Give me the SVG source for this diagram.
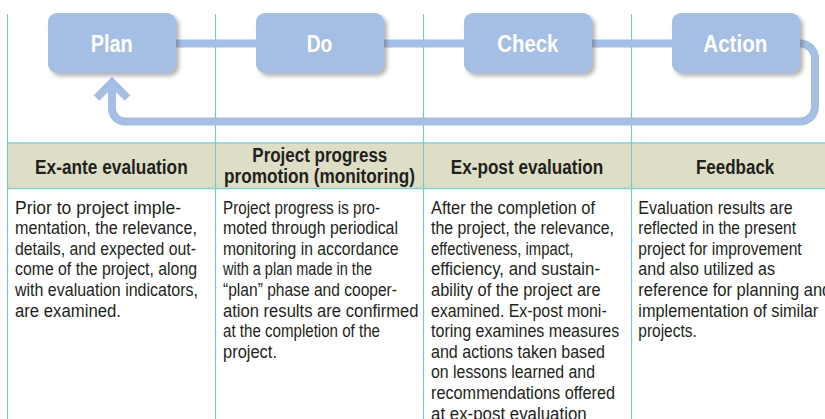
<svg xmlns="http://www.w3.org/2000/svg" width="825" height="419" viewBox="0 0 825 419">
<defs>
<filter id="sh" x="-10%" y="-10%" width="130%" height="140%">
<feDropShadow dx="3" dy="3" stdDeviation="2" flood-color="#555" flood-opacity="0.45"/>
</filter>
<style>
.box{fill:#a4bee4;filter:url(#sh)}
.lbl{font-family:"Liberation Sans",Arial,sans-serif;font-weight:bold;font-size:24px;fill:#fff}
.grid{stroke:#7cc7c6;stroke-width:1.2;fill:none}
.band{fill:#dedec6}
.bandline{stroke:#86cfca;stroke-width:1.6;fill:none}
.hd{font-family:"Liberation Sans",Arial,sans-serif;font-weight:bold;font-size:19.5px;fill:#231f20}
.bd{font-family:"Liberation Sans",Arial,sans-serif;font-size:17.5px;fill:#231f20}
.conn{fill:none;stroke:#a4bee4;stroke-width:8}
</style>
</defs>
<rect width="825" height="419" fill="#fff"/>

<g id="table-grid">
<rect class="band" x="7.5" y="143" width="817.5" height="45.5"/>
<path class="bandline" d="M7.5 143H825M7.5 188.5H825"/>
<path class="grid" d="M7.5 14V419M215.5 14V419M423.5 14V419M631.5 14V419"/>
</g>

<g id="connectors">
<path class="conn" d="M170 43.5H262"/>
<path class="conn" d="M378 43.5H470"/>
<path class="conn" d="M586 43.5H678"/>
<path class="conn" d="M794 43.5H800A15 15 0 0 1 815 58.5V106.5A15 15 0 0 1 800 121.5H125A13 13 0 0 1 112 108.5V84"/>
<polyline class="conn" stroke-linejoin="miter" points="96.5,98 112,82.5 127.5,98"/>
</g>

<g id="plan">
<rect class="box" x="48" y="13" width="128" height="60" rx="9"/>
<text class="lbl" x="90.7" y="51.7" textLength="42" lengthAdjust="spacingAndGlyphs">Plan</text>
</g>
<g id="do">
<rect class="box" x="256" y="13" width="128" height="60" rx="9"/>
<text class="lbl" x="306.7" y="51.7" textLength="25.6" lengthAdjust="spacingAndGlyphs">Do</text>
</g>
<g id="check">
<rect class="box" x="464" y="13" width="128" height="60" rx="9"/>
<text class="lbl" x="497.3" y="51.7" textLength="61" lengthAdjust="spacingAndGlyphs">Check</text>
</g>
<g id="action">
<rect class="box" x="672" y="13" width="128" height="60" rx="9"/>
<text class="lbl" x="703.3" y="51.7" textLength="64" lengthAdjust="spacingAndGlyphs">Action</text>
</g>

<g id="headers">
<text class="hd" x="35" y="174" textLength="152.7" lengthAdjust="spacingAndGlyphs">Ex-ante evaluation</text>
<text class="hd" x="252.3" y="161.5" textLength="135" lengthAdjust="spacingAndGlyphs">Project progress</text>
<text class="hd" x="224" y="183" textLength="191" lengthAdjust="spacingAndGlyphs">promotion (monitoring)</text>
<text class="hd" x="450.7" y="174" textLength="152.6" lengthAdjust="spacingAndGlyphs">Ex-post evaluation</text>
<text class="hd" x="696" y="174" textLength="78.3" lengthAdjust="spacingAndGlyphs">Feedback</text>
</g>

<g id="col1-text">
<text class="bd" x="15" y="213.5" textLength="166" lengthAdjust="spacingAndGlyphs">Prior to project imple-</text>
<text class="bd" x="15" y="234.1" textLength="182" lengthAdjust="spacingAndGlyphs">mentation, the relevance,</text>
<text class="bd" x="15" y="254.7" textLength="181" lengthAdjust="spacingAndGlyphs">details, and expected out-</text>
<text class="bd" x="15" y="275.3" textLength="182" lengthAdjust="spacingAndGlyphs">come of the project, along</text>
<text class="bd" x="15" y="295.9" textLength="183" lengthAdjust="spacingAndGlyphs">with evaluation indicators,</text>
<text class="bd" x="15" y="316.5" textLength="106" lengthAdjust="spacingAndGlyphs">are examined.</text>
</g>

<g id="col2-text">
<text class="bd" x="223" y="213.5" textLength="157" lengthAdjust="spacingAndGlyphs">Project progress is pro-</text>
<text class="bd" x="223" y="234.1" textLength="175" lengthAdjust="spacingAndGlyphs">moted through periodical</text>
<text class="bd" x="223" y="254.7" textLength="175.5" lengthAdjust="spacingAndGlyphs">monitoring in accordance</text>
<text class="bd" x="223" y="275.3" textLength="149" lengthAdjust="spacingAndGlyphs">with a plan made in the</text>
<text class="bd" x="223" y="295.9" textLength="174" lengthAdjust="spacingAndGlyphs">“plan” phase and cooper-</text>
<text class="bd" x="223" y="316.5" textLength="195.5" lengthAdjust="spacingAndGlyphs">ation results are confirmed</text>
<text class="bd" x="223" y="337.1" textLength="157" lengthAdjust="spacingAndGlyphs">at the completion of the</text>
<text class="bd" x="223" y="357.7" textLength="54" lengthAdjust="spacingAndGlyphs">project.</text>
</g>

<g id="col3-text">
<text class="bd" x="431" y="213.5" textLength="164" lengthAdjust="spacingAndGlyphs">After the completion of</text>
<text class="bd" x="431" y="234.1" textLength="183" lengthAdjust="spacingAndGlyphs">the project, the relevance,</text>
<text class="bd" x="431" y="254.7" textLength="142.3" lengthAdjust="spacingAndGlyphs">effectiveness, impact,</text>
<text class="bd" x="431" y="275.3" textLength="169" lengthAdjust="spacingAndGlyphs">efficiency, and sustain-</text>
<text class="bd" x="431" y="295.9" textLength="169.7" lengthAdjust="spacingAndGlyphs">ability of the project are</text>
<text class="bd" x="431" y="316.5" textLength="175.7" lengthAdjust="spacingAndGlyphs">examined. Ex-post moni-</text>
<text class="bd" x="431" y="337.1" textLength="188.3" lengthAdjust="spacingAndGlyphs">toring examines measures</text>
<text class="bd" x="431" y="357.7" textLength="174" lengthAdjust="spacingAndGlyphs">and actions taken based</text>
<text class="bd" x="431" y="378.3" textLength="164" lengthAdjust="spacingAndGlyphs">on lessons learned and</text>
<text class="bd" x="431" y="398.9" textLength="184" lengthAdjust="spacingAndGlyphs">recommendations offered</text>
<text class="bd" x="431" y="419.5" textLength="155.7" lengthAdjust="spacingAndGlyphs">at ex-post evaluation</text>
</g>

<g id="col4-text">
<text class="bd" x="638.3" y="213.5" textLength="154.4" lengthAdjust="spacingAndGlyphs">Evaluation results are</text>
<text class="bd" x="638.3" y="234.1" textLength="157.7" lengthAdjust="spacingAndGlyphs">reflected in the present</text>
<text class="bd" x="638.3" y="254.7" textLength="163.4" lengthAdjust="spacingAndGlyphs">project for improvement</text>
<text class="bd" x="638.3" y="275.3" textLength="136.7" lengthAdjust="spacingAndGlyphs">and also utilized as</text>
<text class="bd" x="638.3" y="295.9" textLength="193" lengthAdjust="spacingAndGlyphs">reference for planning and</text>
<text class="bd" x="638.3" y="316.5" textLength="180" lengthAdjust="spacingAndGlyphs">implementation of similar</text>
<text class="bd" x="638.3" y="337.1" textLength="58.4" lengthAdjust="spacingAndGlyphs">projects.</text>
</g>
</svg>
